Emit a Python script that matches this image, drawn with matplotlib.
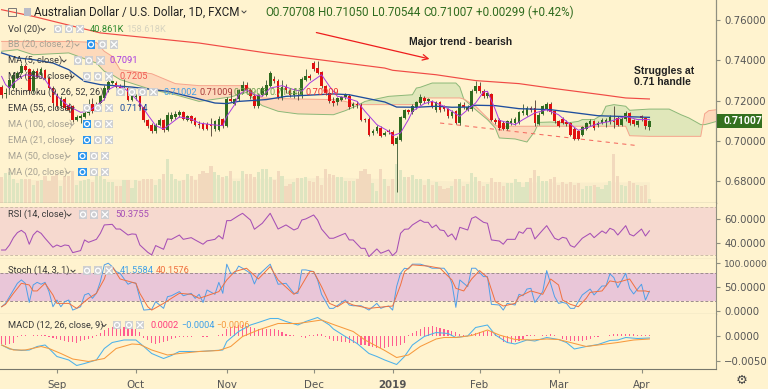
import matplotlib
matplotlib.use("Agg")
import matplotlib.pyplot as plt
from matplotlib.patches import Rectangle, Circle
import numpy as np

plt.rcParams["font.family"] = ["Roboto", "DejaVu Sans"]

# daily AUD/USD candles
opens = [.7267,.7233,.7262,.7262,.7312,.7337,.7370,.7356,.7246,.7345,.7328,.7350,.7312,.7262,.7221,.7172,.7208,.7180,.7172,.7106,
         .7114,.7119,.7139,.7185,.7167,.7188,.7213,.7254,.7287,.7287,.7267,.7267,.7262,.7205,.7218,.7221,.7168,.7102,.7081,.7048,
         .7081,.7102,.7053,.7109,.7119,.7130,.7142,.7106,.7122,.7114,.7086,.7086,.7086,.7081,.7059,.7056,.7109,.7073,.7208,.7185,
         .7208,.7246,.7279,.7251,.7221,.7172,.7229,.7229,.7274,.7307,.7295,.7213,.7267,.7254,.7229,.7229,.7221,.7304,.7323,.7386,
         .7361,.7340,.7271,.7238,.7196,.7191,.7205,.7218,.7224,.7175,.7185,.7180,.7109,.7111,.7040,.7048,.7064,.7030,.7048,.7045,
         .6987,.7007,.7114,.7152,.7142,.7168,.7188,.7213,.7196,.7196,.7155,.7193,.7172,.7158,.7122,.7147,.7089,.7180,.7155,.7158,
         .7246,.7274,.7246,.7224,.7234,.7106,.7106,.7089,.7059,.7089,.7089,.7089,.7139,.7130,.7163,.7163,.7086,.7135,.7155,.7185,
         .7147,.7097,.7109,.7092,.7089,.7059,.7048,.7031,.7059,.7084,.7097,.7081,.7089,.7092,.7094,.7097,.7114,.7081,.7109,.7139,
         .7102,.7078,.7122,.7114,.70708]
closes = [.7229,.7238,.7304,.7328,.7337,.7370,.7353,.7246,.7345,.7317,.7356,.7312,.7262,.7188,.7172,.7213,.7163,.7152,.7102,.7119,
          .7125,.7139,.7163,.7147,.7172,.7221,.7262,.7290,.7295,.7267,.7262,.7274,.7205,.7221,.7224,.7168,.7102,.7073,.7048,.7081,
          .7102,.7053,.7130,.7130,.7134,.7142,.7109,.7122,.7097,.7081,.7081,.7059,.7059,.7076,.7097,.7109,.7073,.7208,.7200,.7208,
          .7251,.7276,.7251,.7221,.7172,.7229,.7262,.7279,.7337,.7295,.7216,.7267,.7251,.7229,.7246,.7221,.7307,.7320,.7310,.7356,
          .7337,.7271,.7238,.7196,.7188,.7211,.7216,.7231,.7168,.7185,.7178,.7106,.7106,.7031,.7051,.7069,.7026,.7040,.7043,.6987,
          .7015,.7117,.7152,.7142,.7175,.7191,.7218,.7196,.7208,.7172,.7193,.7155,.7158,.7122,.7144,.7089,.7183,.7167,.7168,.7246,
          .7274,.7246,.7224,.7238,.7106,.7096,.7064,.7059,.7097,.7101,.7109,.7142,.7147,.7163,.7152,.7089,.7130,.7172,.7185,.7142,
          .7097,.7076,.7089,.7086,.7031,.7010,.7010,.7069,.7089,.7101,.7064,.7089,.7106,.7106,.7119,.7094,.7081,.7109,.7139,.7089,
          .7084,.7097,.7116,.7073,.71007]
highs = [.7275,.7262,.7312,.7340,.7345,.7385,.7380,.7362,.7355,.7360,.7368,.7358,.7320,.7270,.7240,.7225,.7220,.7190,.7180,.7128,
         .7135,.7150,.7210,.7215,.7195,.7230,.7275,.7300,.7305,.7295,.7280,.7305,.7268,.7228,.7235,.7228,.7175,.7110,.7090,.7088,
         .7112,.7110,.7142,.7145,.7148,.7155,.7150,.7130,.7128,.7120,.7098,.7092,.7095,.7114,.7105,.7125,.7115,.7216,.7259,.7215,
         .7258,.7295,.7290,.7260,.7232,.7240,.7270,.7300,.7345,.7320,.7305,.7300,.7280,.7262,.7262,.7248,.7318,.7355,.7330,.7398,
         .7398,.7348,.7278,.7245,.7218,.7220,.7225,.7240,.7235,.7195,.7200,.7190,.7115,.7120,.7060,.7078,.7072,.7050,.7058,.7052,
         .7025,.7125,.7160,.7160,.7185,.7200,.7235,.7222,.7215,.7205,.7200,.7200,.7180,.7165,.7155,.7155,.7192,.7195,.7178,.7258,
         .7295,.7290,.7255,.7245,.7240,.7115,.7112,.7098,.7105,.7112,.7118,.7150,.7182,.7172,.7175,.7204,.7145,.7180,.7195,.7195,
         .7155,.7105,.7118,.7105,.7095,.7068,.7055,.7075,.7095,.7108,.7105,.7100,.7112,.7115,.7130,.7172,.7122,.7120,.7146,.7145,
         .7110,.7105,.7130,.7120,.71050]
lows = [.7215,.7215,.7255,.7255,.7305,.7330,.7345,.7240,.7240,.7310,.7320,.7305,.7255,.7180,.7160,.7165,.7155,.7145,.7095,.7098,
        .7090,.7112,.7130,.7140,.7150,.7180,.7205,.7245,.7280,.7255,.7255,.7238,.7198,.7198,.7205,.7160,.7095,.7066,.7040,.7042,
        .7072,.7045,.7048,.7100,.7108,.7118,.7102,.7098,.7090,.7072,.7062,.7052,.7052,.7023,.7050,.7050,.7065,.7068,.7192,.7178,
        .7200,.7238,.7245,.7210,.7162,.7165,.7222,.7222,.7265,.7288,.7208,.7205,.7240,.7218,.7215,.7205,.7215,.7295,.7300,.7348,
        .7330,.7262,.7228,.7190,.7175,.7180,.7198,.7210,.7158,.7165,.7165,.7098,.7095,.7025,.7032,.7040,.7020,.7025,.7035,.6982,
        .6746,.7000,.7108,.7135,.7135,.7160,.7180,.7188,.7185,.7165,.7145,.7145,.7150,.7115,.7115,.7082,.7080,.7160,.7148,.7150,
        .7238,.7238,.7215,.7215,.7098,.7085,.7055,.7052,.7052,.7078,.7080,.7082,.7130,.7122,.7142,.7072,.7078,.7128,.7148,.7135,
        .7090,.7068,.7082,.7075,.7025,.7003,.7005,.7025,.7052,.7075,.7055,.7070,.7082,.7070,.7085,.7062,.7072,.7072,.7100,.7080,
        .7075,.7070,.7100,.7060,.70544]
# volume in thousands
volume = [97,108,110,93,82,91,91,93,77,86,89,99,86,101,104,73,101,99,112,77,86,89,91,84,101,99,91,84,84,73,75,89,89,70,89,86,91,91,92,77,91,104,145,
          106,91,86,89,104,101,89,104,112,108,127,110,102,97,99,114,86,86,112,106,106,97,110,118,118,97,89,112,101,75,80,84,95,95,97,86,84,101,77,118,104,102,
          97,97,88,88,88,92,112,118,104,82,62,119,93,75,93,132,117,97,97,102,92,92,77,91,76,84,75,66,70,75,92,91,73,80,108,97,88,75,80,96,84,
          84,75,82,82,93,84,71,84,95,117,99,87,87,93,97,77,84,80,84,77,82,67,75,75,77,71,67,77,86,158.6,101,76,75,86,82,77,73,77,40.86]
vol_ma_x = [0,14,28,42,57,70,85,100,115,130,145,164]
vol_ma = [92,90,92,90,95,93,97,92,87,84,84,85]

# lines, each with the bars it was read at
ma5_x = [0,1,2,3,5,6,8,10,11,13,15,17,20,22,24,26,27,29,31,33,35,37,39,41,43,45,48,50,53,56,57,59,60,62,64,66,68,71,74,76,78,81,83,85,87,90,92,95,98,99,101,103,104,107,109,112,114,116,118,120,122,123,125,126,130,132,135,138,141,143,146,148,151,154,158,161,164]
ma5 = [.7320,.7279,.7262,.7287,.7317,.7328,.7323,.7317,.7304,.7246,.7205,.7172,.7142,.7147,.7175,.7205,.7254,.7274,.7262,.7229,.7188,.7130,.7076,.7059,.7089,.7119,.7109,.7089,.7081,.7076,.7122,.7180,.7229,.7254,.7229,.7221,.7262,.7274,.7254,.7246,.7287,.7328,.7271,.7221,.7216,.7196,.7147,.7081,.7048,.7026,.7040,.7106,.7147,.7185,.7196,.7172,.7147,.7122,.7155,.7188,.7243,.7246,.7155,.7102,.7081,.7106,.7139,.7155,.7130,.7097,.7053,.7064,.7086,.7097,.7122,.7106,.7106]
ema55_x = [0,4,8,13,17,21,25,33,42,49,54,57,60,67,72,80,84,88,92,97,100,105,110,114,118,120,125,131,139,151,156,164]
ema55 = [.7436,.7411,.7403,.7386,.7353,.7295,.7279,.7267,.7246,.7213,.7188,.7185,.7196,.7205,.7221,.7229,.7233,.7229,.7213,.7193,.7168,.7167,.7172,.7167,.7168,.7177,.7175,.7160,.7155,.7125,.7122,.7117]
trend_x = [0,8,25,50,67,97,99,110,120,131,139,152,158,164]
trend = [.7650,.7617,.7535,.7485,.7436,.7361,.7350,.7328,.7299,.7284,.7262,.7229,.7213,.7208]
dash_x = [111,161]
dash = [.7089,.6977]
arrow_x = [79,109]
arrow = [.7540,.7403]

cloud_x = [0,4,8,17,24,26,28,30,38,44,50,58,62,64,66,70,75,84,87,90,92,98,104,105,106,109,115,116,117,120,123,125,126,130,133,135,136,139,143,146,147,150,152,153,155,158,159,164,169,172,174,177,178,179,181]
span_a = [.7444,.7452,.7427,.7436,.7386,.7345,.7328,.7304,.7254,.7229,.7196,.7218,.7241,.7205,.7175,.7147,.7134,.7130,.7150,.7175,.7196,.7221,.7229,.7262,.7266,.7287,.7287,.7267,.7208,.7155,.7106,.7064,.7015,.7010,.6995,.7048,.7092,.7094,.7089,.7097,.7106,.7106,.7130,.7172,.7180,.7172,.7152,.7158,.7158,.7130,.7114,.7081,.7081,.7086,.7097]
span_b = [.7493,.7493,.7493,.7493,.7488,.7444,.7419,.7353,.7333,.7284,.7274,.7274,.7274,.7229,.7213,.7210,.7208,.7205,.7196,.7180,.7180,.7180,.7180,.7180,.7213,.7213,.7213,.7213,.7208,.7172,.7114,.7076,.7073,.7073,.7073,.7073,.7073,.7073,.7073,.7073,.7073,.7073,.7073,.7073,.7073,.7073,.7026,.7023,.7023,.7023,.7023,.7023,.7135,.7150,.7155]

rsi_x = [0,1,2,3,4,5,6,7,8,9,10,11,13,14,15,16,17,18,20,21,22,24,25,26,28,29,30,32,33,34,35,37,38,39,41,42,43,45,46,48,49,51,52,54,55,56,57,58,60,61,63,64,66,68,70,72,74,75,76,77,79,80,81,83,84,87,88,89,91,92,93,95,96,97,98,99,100,101,102,103,104,106,107,108,109,110,111,112,113,114,115,116,118,119,120,122,123,124,126,127,128,130,131,132,133,134,135,137,138,140,141,142,143,144,145,147,149,150,152,153,154,155,156,158,159,160,162,163,164]
rsi = [34.4,34.4,38.6,44.7,48.9,50.8,48.3,39.2,46.9,50.3,48.3,44.2,36.7,38.6,37.2,38.6,38.1,32.2,33.9,42.8,40.8,43.3,48.3,55.3,55.8,51.9,51.9,46.9,47.8,47.5,38.6,32.5,30.3,38.1,35,43.6,43.3,46.9,43.3,44.7,42.8,39.2,42,43.3,46.4,43.6,58.9,58.9,63.1,65,59.4,51.7,56.7,65,51.9,55.3,51.1,52.5,59.4,60.3,63.6,59.4,51.9,44.2,44.2,48.3,42.8,42.8,35.8,35.8,28.9,35.3,31.7,33,34.4,29.7,33,48.3,51.7,51.9,55.3,59.4,57.5,57.5,53,55.3,51.1,50.6,45.6,47.8,42.8,53.3,51.1,60.8,62.2,57.5,56.7,42.8,41.9,39.2,43.3,43.3,49.7,48.3,52.5,52.5,43.6,51.1,54.7,44.2,42.8,45,44.2,38.1,36.7,44.2,48.3,44.7,50.3,48.3,52.5,51.1,46.9,54.7,47.5,46.1,51.9,46.1,50.38]

stoch_k_x = [0,1,3,4,5,6,7,8,9,10,11,12,13,14,15,16,17,18,20,21,22,23,24,25,26,27,28,29,30,32,33,34,35,36,38,39,41,42,43,45,46,48,49,50,51,52,54,55,56,57,58,59,60,61,63,64,65,68,70,72,74,75,76,77,79,80,81,83,84,87,88,89,91,93,95,96,97,98,99,100,101,102,103,104,106,108,109,112,113,114,115,116,118,119,120,122,123,124,126,127,128,130,131,132,133,134,135,137,138,140,141,142,143,144,145,147,149,150,152,153,154,155,156,158,159,160,162,163,164]
stoch_k = [9,16,44,58,65,58,18,54.5,60,56,60,40.6,9,23,9,19.6,23,2,9,33.6,37,26.6,37,61.5,96.5,100,93,82.5,79,56,60,58,26.6,2,3.5,19.6,5.6,30,32,40.6,32,37,26.6,35,18,44,35,60,37,98,79,79,94,89.5,79,56.6,75,98,56,58,37,37,86,86,82.5,65,35,5.6,5.6,23,12.6,11,11,2,16,5.6,9,10.5,2,51,79,89.5,88,98,98,93,89.5,89.5,79,58,7.7,65,51,89.5,89.5,72,72,14,12.6,2,16,12.6,35,32,46,47.5,18,40.6,84.6,30,16,18,16,5.6,5.6,33.6,46,33.6,52.4,52.4,77.6,70,49,79,47.5,35.7,56,23,41.56]
stoch_d_x = [0,1,3,5,7,8,9,11,13,14,17,19,22,24,26,27,28,30,34,35,37,38,41,43,45,48,50,52,55,57,59,62,65,68,70,74,75,78,79,81,83,85,87,89,93,97,99,101,102,104,108,111,114,115,117,119,121,123,125,127,130,131,134,137,139,141,142,144,146,148,149,152,154,156,159,161,163,164]
stoch_d = [9,14,37,58,54.5,42,42,58,33.6,16,16,5.6,26.6,37,67,93,93,67,58,37,9,2,16,26.6,37,35,26.6,32,40.6,65,82.5,89.5,67,93,65,35,40.6,82.5,82.5,51,16,9,19.6,12.6,5.6,9,10.5,54.5,82.5,96.5,94,89.5,65,47.5,42,67,84.6,70,19.6,10.5,16,30,42,35,67,54.5,23,14,9,26.6,39,42,63,60,67,42,42,40.16]

macd_x = [0,2,5,7,9,11,12,14,17,19,21,24,26,28,31,34,36,38,41,43,45,50,54,56,57,60,63,65,68,70,72,75,77,80,83,84,87,90,93,95,97,100,102,104,107,110,113,115,118,120,123,125,128,130,133,135,138,141,143,145,148,151,154,156,158,161,164]
macd = [-.0018,-.0026,-.0029,-.0028,-.0021,-.0018,-.0025,-.0041,-.0048,-.0059,-.0055,-.0048,-.0025,-.0013,-.0008,-.0008,-.0021,-.0035,-.0045,-.0039,-.0031,-.0031,-.0029,-.0028,-.0011,.0009,.0022,.0027,.0035,.0035,.0029,.0022,.0029,.0037,.0022,.0014,-.0001,-.0015,-.0035,-.0041,-.0048,-.0057,-.0041,-.0018,-.0001,.0007,.0005,-.0003,0,.0017,.0022,.0002,-.0013,-.0016,-.0008,-.0010,-.0003,-.0007,-.0013,-.0026,-.0021,-.0017,-.0009,-.0008,-.0003,-.0005,-.0004]
signal_x = [0,3,6,10,12,15,18,22,26,29,33,35,38,42,45,50,55,58,61,65,70,75,81,84,89,92,97,100,103,106,110,112,115,119,123,126,130,134,138,141,144,148,151,156,160,164]
signal = [-.0018,-.0028,-.0028,-.0021,-.0025,-.0035,-.0046,-.0051,-.0045,-.0025,-.0016,-.0017,-.0028,-.0038,-.0035,-.0031,-.0029,-.0021,-.0001,.0012,.0025,.0025,.0032,.0023,.0009,-.0008,-.0029,-.0043,-.0038,-.0021,-.0006,-.0003,-.0003,.0001,.0012,.0002,-.0007,-.0008,-.0006,-.0007,-.0013,-.0021,-.0018,-.0013,-.0008,-.0006]
hist = [-16,-17,-15,-13,-2,2,3,1,2,3,3,2,-1,-3,-6,-8,-10,-11,-12,-13,-10,-7,-5,-3,2,6,12,16,18,20,20,19,18,16,14,8,-3,-8,-13,-15,-14,-12,-9,-5,
        -3,-2,-1,-2,-1,0,0,-1,-1,1,1,2,5,14,19,20,22,22,20,18,16,15,14,14,14,14,12,8,5,3,2,0,-2,-3,2,3,5,5,
        -2,-5,-9,-10,-11,-12,-13,-14,-15,-17,-18,-20,-22,-23,-24,-24,-22,-20,-20,-18,-14,2,6,10,14,18,19,20,19,17,15,12,10,8,5,2,1,4,7,9,11,11,10,6,
        -4,-12,-14,-13,-11,-9,-5,2,3,2,1,2,3,4,3,1,-6,-8,-9,-10,-10,-9,-7,-5,-2,-1,0,1,3,4,5,5,4,5,4,3,3,2,2]

tick_pos = [14,34,57,79,99,121,141,162]
tick_labels = ["Sep","Oct","Nov","Dec","2019","Feb","Mar","Apr"]
price_ticks = [0.68,0.70,0.72,0.74,0.76]

bg = "#fff3cf"
up = "#2f6b1f"
down = "#e01010"
axcol = "#8f8f80"
W, H = 768.0, 389.0
XLIM = (-0.405, 180.86)

fig = plt.figure(figsize=(7.68, 3.89), dpi=100, facecolor=bg)

def panel(top, bottom):
    ax = fig.add_axes([0, 1 - bottom / H, 716 / W, (bottom - top) / H], facecolor=bg)
    ax.set_xlim(*XLIM)
    for s in ["top", "left"]:
        ax.spines[s].set_visible(False)
    ax.spines["right"].set_color(axcol)
    ax.spines["bottom"].set_color("#77776c")
    ax.yaxis.tick_right()
    ax.set_xticks([])
    ax.tick_params(axis="y", length=3, color=axcol, labelcolor="#555555", labelsize=7.3, pad=3)
    return ax

def axis_font(a):
    for lab in a.get_yticklabels():
        lab.set_family("DejaVu Sans")

x = np.arange(len(closes))
is_up = np.array(closes) >= np.array(opens)

# main panel
ax_vol = panel(0, 203)
ax_vol.set_ylim(29.5, 560)
ax_vol.set_yticks([])
ax_vol.fill_between(vol_ma_x, 0, vol_ma, color="#f9edcb", lw=0)
ax_vol.bar(x, volume, width=0.8, color=["#dee5c0" if u else "#f2d9bd" for u in is_up])

ax = panel(0, 203)
ax.patch.set_alpha(0)
ax.set_ylim(0.6693, 0.7698)
ax.set_yticks(price_ticks)
ax.set_yticklabels([f"{p:.5f}" for p in price_ticks])
axis_font(ax)

a = np.array(span_a)
b = np.array(span_b)
ax.fill_between(cloud_x, a, b, where=a >= b, interpolate=True, color="#e0e7ba", lw=0, zorder=1)
ax.fill_between(cloud_x, a, b, where=a < b, interpolate=True, color="#fdd9bb", lw=0, zorder=1)
ax.plot(cloud_x, a, color="#8cb878", lw=0.7, zorder=2)
ax.plot(cloud_x, b, color="#f6a48c", lw=0.7, zorder=2)

ax.plot(trend_x, trend, color="#f04a45", lw=0.85, zorder=2)
ax.plot(dash_x, dash, color="#f46a60", lw=0.75, ls=(0, (4, 4)), zorder=2)
ax.annotate("", xy=(arrow_x[1], arrow[1]), xytext=(arrow_x[0], arrow[0]),
            arrowprops=dict(arrowstyle="->", color="#ee1c1c", lw=0.9, mutation_scale=10), zorder=5)

colors = [up if u else down for u in is_up]
ax.vlines(x, lows, highs, color=["#46603c" if u else "#5a4a3c" for u in is_up], lw=0.65, zorder=3)
body_bot = np.minimum(opens, closes)
body_h = np.maximum(np.abs(np.array(closes) - np.array(opens)), 0.0004)
ax.bar(x, body_h, bottom=body_bot, width=0.66, color=colors, lw=0, zorder=4)

ax.plot(ema55_x, ema55, color="#1f4e9e", lw=0.95, zorder=5)
ax.plot(ma5_x, ma5, color="#a83be0", lw=0.7, zorder=5)

# last price tag on the axis
tag = ax.get_yaxis_transform()
ax.add_patch(Rectangle((1.001, closes[-1] - 0.0035), 0.0635, 0.0070, transform=tag, fc="#34701f", ec="none", clip_on=False, zorder=10))
ax.text(1.0098, closes[-1], f"{closes[-1]:.5f}", transform=tag, color="white", fontsize=7.6,
        fontweight="bold", va="center", ha="left", clip_on=False, zorder=11)

# RSI
ax_rsi = panel(203, 259)
ax_rsi.set_ylim(26.9, 73.6)
ax_rsi.axhspan(30, 70, color="#f6d9cf", lw=0)
for lv in [30, 70]:
    ax_rsi.axhline(lv, color="#cdbca8", lw=0.7, ls=(0, (3, 2)))
ax_rsi.plot(rsi_x, rsi, color="#a64fb5", lw=0.75)
ax_rsi.set_yticks([40, 60])
ax_rsi.set_yticklabels(["40.0000", "60.0000"])
axis_font(ax_rsi)

# Stoch
ax_st = panel(259, 314)
ax_st.set_ylim(-6.2, 108.8)
ax_st.axhspan(20, 80, color="#e9c6d8", lw=0)
for lv in [20, 80]:
    ax_st.axhline(lv, color="#9c8c8c", lw=0.7, ls=(0, (3, 2)))
ax_st.plot(stoch_k_x, stoch_k, color="#4f9fe8", lw=0.7)
ax_st.plot(stoch_d_x, stoch_d, color="#f0703f", lw=0.7)
ax_st.set_yticks([0, 50, 100])
ax_st.set_yticklabels(["0.0000", "50.0000", "100.0000"])
axis_font(ax_st)
ax_st.get_yticklabels()[2].set_fontsize(6.6)

# MACD
ax_m = panel(314, 369)
ax_m.set_ylim(-0.0066, 0.0044)
ax_m.bar(x, np.array(hist) * 1e-4, width=0.3, color="#ff5c90", lw=0)
ax_m.plot(macd_x, macd, color="#4db2ea", lw=0.75)
ax_m.plot(signal_x, signal, color="#f79a3e", lw=0.75)
ax_m.set_yticks([-0.005, 0])
ax_m.set_yticklabels(["\u22120.0050", "0.0000"])
axis_font(ax_m)
ax_m.set_xticks(tick_pos)
ax_m.set_xticklabels(tick_labels)
ax_m.tick_params(axis="x", length=3, color=axcol, labelcolor="#555555", labelsize=7.4, pad=5)
for lab in ax_m.get_xticklabels():
    lab.set_family("DejaVu Sans")
    if lab.get_text() == "2019":
        lab.set_fontweight("bold")

# texts and small buttons, in picture pixels
ov = fig.add_axes([0, 0, 1, 1], facecolor="none")
ov.set_xlim(0, W)
ov.set_ylim(H, 0)
ov.axis("off")

def button(cx, cy, kind, blue=False):
    col = "#1e90f0" if blue else "#cbcdd2"
    ov.add_patch(Rectangle((cx - 4.3, cy - 4.3), 8.6, 8.6, fc=col, ec="none", alpha=0.95))
    if kind == "x":
        ov.plot([cx - 2.6, cx + 2.6], [cy - 2.6, cy + 2.6], color="white", lw=0.9)
        ov.plot([cx - 2.6, cx + 2.6], [cy + 2.6, cy - 2.6], color="white", lw=0.9)
    else:
        ov.add_patch(Circle((cx, cy), 2.5, fc="none", ec="white", lw=0.9))

def chevron(cx, cy, col="#444444"):
    ov.plot([cx - 2, cx, cx + 2], [cy - 1, cy + 1, cy - 1], color=col, lw=0.7)

def legend(label, y, active, btn_x, chev_x=None, blue=False, kinds=("o", "o", "x")):
    col = "#3a3a3a" if active else "#a6a294"
    ov.text(8.5, y, label, color=col, fontsize=6.7, va="center", ha="left")
    if chev_x:
        chevron(chev_x, y + 0.5, col)
    for i, bx in enumerate(btn_x):
        button(bx, y, kinds[i], blue and i == 0)

fs = 8.35
ov.add_patch(Rectangle((8, 8), 8, 8, fc="none", ec="#777777", lw=0.7))
ov.add_patch(Rectangle((24, 8), 7, 8, fc="#b9bcc8", ec="none"))
ov.text(34, 12.5, "Australian Dollar / U.S. Dollar, 1D, FXCM", color="#222222", fontsize=fs, va="center")
chevron(244, 12)
ov.text(265, 12.5, "O0.70708", color="#2f6b1f", fontsize=fs, va="center")
ov.text(318, 12.5, "H0.71050", color="#2f6b1f", fontsize=fs, va="center")
ov.text(372, 12.5, "L0.70544", color="#2f6b1f", fontsize=fs, va="center")
ov.text(423, 12.5, "C0.71007", color="#2f6b1f", fontsize=fs, va="center")
ov.text(476, 12.5, "+0.00299 (+0.42%)", color="#2f6b1f", fontsize=fs, va="center")

legend("Vol (20)", 29, True, (58, 69, 80), 43)
legend("BB (20, close, 2)", 44.5, False, (91, 102.5, 114), 77, True)
legend("MA (5, close)", 60.5, True, (78, 89, 100.5), 64)
legend("MA (200, close)", 76.5, True, (87, 98, 109), 72)
legend("Ichimoku (9, 26, 52, 26)", 92, True, (120.5, 132, 142.5, 153.5), None, kinds=("o", "o", "o", "x"))
legend("EMA (55, close)", 108, True, (87, 98, 109), 72)
legend("MA (100, close)", 124, False, (87, 98, 109), 72, True)
legend("EMA (21, close)", 140, False, (87, 98, 109), 72, True)
legend("MA (50, close)", 156, False, (82.5, 94, 105), 68, True)
legend("MA (20, close)", 172, False, (82.5, 94, 105), 68, True)
legend("RSI (14, close)", 214.5, True, (83, 94, 105), 69)
legend("Stoch (14, 3, 1)", 270.7, True, (87, 98, 109), 73)
legend("MACD (12, 26, close, 9)", 325, True, (117, 129, 140), 104)

def val(x0, y, s, col):
    ov.text(x0, y, s, color=col, fontsize=6.7, va="center")

val(90, 29, "40.861K", "#2f8a2f")
val(126, 29, "158.618K", "#d8d4c0")
val(110, 60.5, "0.7091", "#a83be0")
val(119.5, 76.5, "0.7205", "#f05a50")
val(163.5, 92, "0.71002", "#3ea0e8")
val(199, 92, "0.71009", "#a83a3a")
val(234, 92, "0.70905", "#6fa050")
val(269, 92, "0.71445", "#6fa050")
val(305, 92, "0.70909", "#f03030")
val(119.5, 108, "0.7114", "#1f4e9e")
val(115.5, 214.5, "50.3755", "#a64fb5")
val(120, 270.7, "41.5584", "#3ea0e8")
val(155.5, 270.7, "40.1576", "#f0703f")
val(150.5, 325, "0.0002", "#ff3c7e")
val(181, 325, "\u22120.0004", "#3ea0e8")
val(216.5, 325, "\u22120.0006", "#f79a3e")

bold = dict(family="Liberation Sans", fontweight="bold", fontsize=7.5, color="#222222", va="center")
ov.text(409, 41.5, "Major trend - bearish", **bold)
ov.text(634, 70.5, "Struggles at", **bold)
ov.text(634, 81.5, "0.71 handle", **bold)
ov.text(742, 380, "\u2699", family="DejaVu Sans", fontsize=9.5, color="#444444", va="center", ha="center")

fig.savefig("out.png", dpi=100, facecolor=bg)
